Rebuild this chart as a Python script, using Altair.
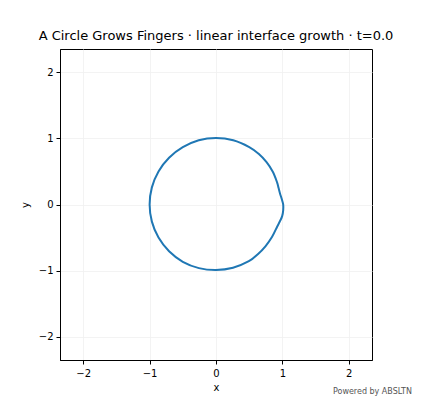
import altair as alt
import numpy as np
import pandas as pd

# interface radius, at polar angles (degrees)
angles_deg = [-180, -165, -150, -135, -120, -105, -90, -75, -60,
              -50, -40, -30, -20, -15, -10, -5, 0, 5, 10, 15, 20, 30,
              40, 50, 60, 75, 90, 105, 120, 135, 150, 165]
radii = [1.0, 1.0, 1.0, 1.0, 1.0, 0.995, 0.99, 0.99, 0.99,
         0.98, 0.976, 0.976, 0.98, 0.995, 1.012, 1.016, 1.012, 0.993, 0.978, 0.975, 0.979, 0.988,
         0.994, 0.999, 1.002, 1.005, 1.005, 1.005, 1.0, 1.0, 1.0, 1.0]
tick_values = [-2, -1, 0, 1, 2]
title_text = "A Circle Grows Fingers · linear interface growth · t=0.0"
credit_text = "Powered by ABSLTN"

th = np.deg2rad(np.array(angles_deg, dtype=float))
r = np.array(radii)
df = pd.DataFrame({"x": r * np.cos(th), "y": r * np.sin(th), "i": range(len(r))})

font = "DejaVu Sans"
xs = alt.Scale(domain=[-2.35, 2.35], nice=False, zero=False)
ys = alt.Scale(domain=[-2.35, 2.35], nice=False, zero=False)

axis_common = dict(values=tick_values, grid=True, gridColor="#f0f0f0", gridWidth=0.8,
                   domainColor="black", domainWidth=1, tickColor="black", tickSize=4,
                   labelFont=font, labelFontSize=10, labelColor="black",
                   titleFont=font, titleFontSize=10, titleFontWeight="normal", titleColor="black")

line = alt.Chart(df).mark_line(color="#1f77b4", strokeWidth=2, interpolate="cardinal-closed").encode(
    x=alt.X("x:Q", scale=xs, axis=alt.Axis(title="x", labelPadding=4, titlePadding=4, **axis_common)),
    y=alt.Y("y:Q", scale=ys, axis=alt.Axis(title="y", labelPadding=3, titlePadding=8, **axis_common)),
    order="i:Q",
)

credit = alt.Chart(pd.DataFrame({"t": [credit_text]})).mark_text(
    align="right", baseline="middle", font=font, fontSize=8, color="#555555"
).encode(text="t:N", x=alt.value(352), y=alt.value(343))

chart = alt.layer(line, credit).properties(
    width=312, height=311,
    title=alt.TitleParams(title_text, font=font, fontSize=13, fontWeight="normal",
                          color="black", anchor="middle", offset=6),
    autosize=alt.AutoSizeParams(type="none"),
    padding={"left": 52, "top": 41, "right": 41, "bottom": 36},
).configure_view(stroke="black", strokeWidth=1)

chart.save("out.html", embed_options={"renderer": "svg", "actions": False})
